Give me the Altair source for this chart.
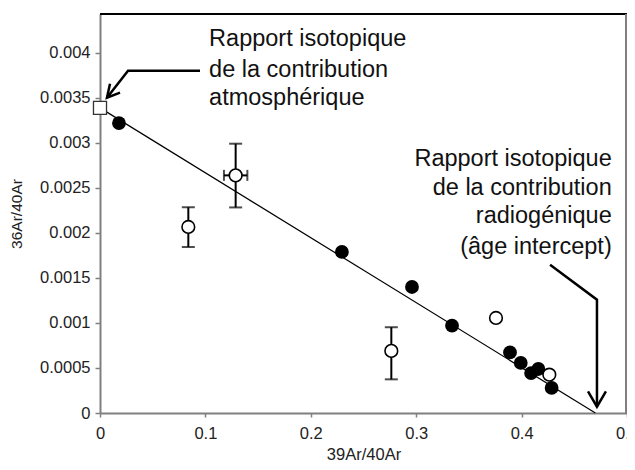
import altair as alt
import pandas as pd

# ---- data ----
filled_x = [0.018, 0.2295, 0.296, 0.334, 0.389, 0.3992, 0.409, 0.4159, 0.4285]
filled_y = [0.00322, 0.00179, 0.00140, 0.00097, 0.000673, 0.000556, 0.000444, 0.000489, 0.000278]

open_x = [0.0838, 0.1287, 0.2764, 0.3757, 0.4263]
open_y = [0.002067, 0.00264, 0.00069, 0.001056, 0.000426]

atm_x = [0.0]
atm_y = [0.00339]

# vertical error bars (x, y_low, y_high)
ebar_x = [0.0838, 0.1287, 0.2764]
ebar_lo = [0.001844, 0.002284, 0.000374]
ebar_hi = [0.002286, 0.002992, 0.000953]
# horizontal error bar (y, x_low, x_high)
hbar_y = [0.00264]
hbar_lo = [0.1176]
hbar_hi = [0.1398]

# regression line
fit_x = [0.0, 0.470]
fit_y = [0.00339, 0.0]

# annotation arrows (polylines, data coordinates)
arrow_seg = ["a1", "a1", "a1", "a2", "a2", "a2", "b1", "b1", "b1", "b2", "b2", "b2"]
arrow_x = [0.0949, 0.0266, 0.0066, 0.0095, 0.0066, 0.0190,
           0.427, 0.4715, 0.4715, 0.4630, 0.4715, 0.4800]
arrow_y = [0.003803, 0.003803, 0.003503, 0.003659, 0.003503, 0.003560,
           0.001648, 0.001259, 0.000070, 0.000240, 0.000070, 0.000240]

atm_text = ["Rapport isotopique", "de la contribution", "atmosphérique"]
atm_text_x = [0.1035, 0.1035, 0.1035]
atm_text_y = [0.004150, 0.003810, 0.003500]

rad_text = ["Rapport isotopique", "de la contribution", "radiogénique\u00a0", "(âge intercept)"]
rad_text_x = [0.4855, 0.4855, 0.4855, 0.4855]
rad_text_y = [0.002820, 0.002505, 0.002185, 0.001840]

x_ticks = [0, 0.1, 0.2, 0.3, 0.4, 0.5]
y_ticks = [0, 0.0005, 0.001, 0.0015, 0.002, 0.0025, 0.003, 0.0035, 0.004]

W, H = 527, 399
FONT = "Liberation Sans"
XDOM = [0, 0.5]
YDOM = [0, 0.004433]

xs = alt.Scale(domain=XDOM, nice=False, zero=False)
ys = alt.Scale(domain=YDOM, nice=False, zero=False)

axis_x = alt.Axis(values=x_ticks, format="~g", title="39Ar/40Ar", grid=False,
                  domainColor="#808080", domainWidth=2, tickColor="#808080", tickWidth=1.5,
                  tickSize=4, labelFont=FONT, labelFontSize=16.5, labelColor="#222222",
                  labelPadding=8, labelFlush=False, labelOverlap=False,
                  titleFont=FONT, titleFontSize=16.5, titleFontWeight="normal",
                  titleColor="#222222", titleY=41, titleBaseline="middle")
axis_y = alt.Axis(values=y_ticks, format="~g", title="36Ar/40Ar", grid=False,
                  domainColor="#808080", domainWidth=2, tickColor="#808080", tickWidth=1.5,
                  tickSize=5, labelFont=FONT, labelFontSize=16.5, labelColor="#222222",
                  labelPadding=5, labelFlush=False, labelOverlap=False,
                  titleFont=FONT, titleFontSize=15.5, titleFontWeight="normal",
                  titleColor="#222222", titleX=-84, titleY=H / 2, titleBaseline="middle")

base_df = pd.DataFrame({"x": fit_x, "y": fit_y})
fit = alt.Chart(base_df).mark_line(color="black", strokeWidth=1.2).encode(
    x=alt.X("x:Q", scale=xs, axis=axis_x),
    y=alt.Y("y:Q", scale=ys, axis=axis_y),
)

eb_df = pd.DataFrame({"x": ebar_x, "lo": ebar_lo, "hi": ebar_hi})
ebar = alt.Chart(eb_df).mark_rule(color="black", strokeWidth=2).encode(
    x=alt.X("x:Q", scale=xs), y=alt.Y("lo:Q", scale=ys), y2="hi:Q")
cap_lo = alt.Chart(eb_df).mark_tick(color="black", orient="horizontal", size=13, thickness=2).encode(
    x=alt.X("x:Q", scale=xs), y=alt.Y("lo:Q", scale=ys))
cap_hi = alt.Chart(eb_df).mark_tick(color="black", orient="horizontal", size=13, thickness=2).encode(
    x=alt.X("x:Q", scale=xs), y=alt.Y("hi:Q", scale=ys))

hb_df = pd.DataFrame({"y": hbar_y, "lo": hbar_lo, "hi": hbar_hi})
hbar = alt.Chart(hb_df).mark_rule(color="black", strokeWidth=2).encode(
    y=alt.Y("y:Q", scale=ys), x=alt.X("lo:Q", scale=xs), x2="hi:Q")
hcap_lo = alt.Chart(hb_df).mark_tick(color="black", orient="vertical", size=11, thickness=2).encode(
    y=alt.Y("y:Q", scale=ys), x=alt.X("lo:Q", scale=xs))
hcap_hi = alt.Chart(hb_df).mark_tick(color="black", orient="vertical", size=11, thickness=2).encode(
    y=alt.Y("y:Q", scale=ys), x=alt.X("hi:Q", scale=xs))

filled = alt.Chart(pd.DataFrame({"x": filled_x, "y": filled_y})).mark_point(
    shape="circle", filled=True, color="black", size=190, opacity=1).encode(
    x=alt.X("x:Q", scale=xs), y=alt.Y("y:Q", scale=ys))

opened = alt.Chart(pd.DataFrame({"x": open_x, "y": open_y})).mark_point(
    shape="circle", filled=True, fill="white", stroke="black", strokeWidth=1.6,
    size=160, opacity=1).encode(
    x=alt.X("x:Q", scale=xs), y=alt.Y("y:Q", scale=ys))

square = alt.Chart(pd.DataFrame({"x": atm_x, "y": atm_y})).mark_point(
    shape="square", filled=True, fill="white", stroke="#333333", strokeWidth=1.3,
    size=170, opacity=1).encode(
    x=alt.X("x:Q", scale=xs), y=alt.Y("y:Q", scale=ys))

arr_df = pd.DataFrame({"seg": arrow_seg, "x": arrow_x, "y": arrow_y,
                       "o": list(range(len(arrow_x)))})
arrows = alt.Chart(arr_df).mark_line(color="black", strokeWidth=2.5, strokeJoin="miter").encode(
    x=alt.X("x:Q", scale=xs), y=alt.Y("y:Q", scale=ys), detail="seg:N", order="o:Q")

t1 = alt.Chart(pd.DataFrame({"t": atm_text, "x": atm_text_x, "y": atm_text_y})).mark_text(
    align="left", baseline="middle", font=FONT, fontSize=23.5, color="#111111").encode(
    x=alt.X("x:Q", scale=xs), y=alt.Y("y:Q", scale=ys), text="t:N")
t2 = alt.Chart(pd.DataFrame({"t": rad_text, "x": rad_text_x, "y": rad_text_y})).mark_text(
    align="right", baseline="middle", font=FONT, fontSize=23.5, color="#111111").encode(
    x=alt.X("x:Q", scale=xs), y=alt.Y("y:Q", scale=ys), text="t:N")

top_border = alt.Chart(pd.DataFrame({"a": [0]})).mark_rule(color="black", strokeWidth=2).encode(
    x=alt.value(0), x2=alt.value(W), y=alt.value(0))
right_border = alt.Chart(pd.DataFrame({"a": [0]})).mark_rule(color="#808080", strokeWidth=2).encode(
    x=alt.value(W - 1), y=alt.value(0), y2=alt.value(H))

chart = alt.layer(
    fit, ebar, cap_lo, cap_hi, hbar, hcap_lo, hcap_hi,
    filled, opened, square, arrows, t1, t2, top_border, right_border
).properties(
    width=W, height=H,
    autosize=alt.AutoSizeParams(type="none"),
    padding={"left": 92, "top": 6, "right": 0, "bottom": 48},
).configure_view(stroke=None).configure(background="white")

chart.save("out.html", embed_options={"renderer": "svg", "actions": False})
